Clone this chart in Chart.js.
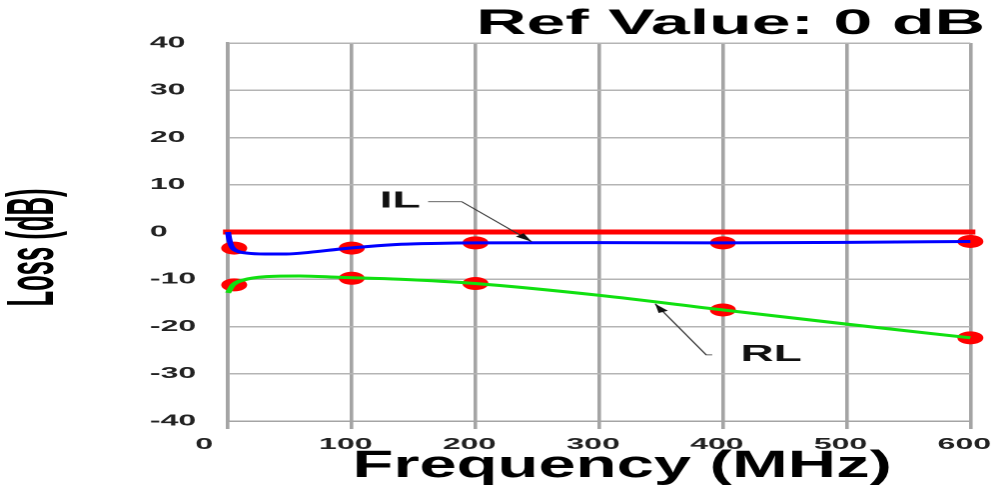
<!DOCTYPE html>
<html>
<head>
<meta charset="utf-8">
<script src="https://cdn.jsdelivr.net/npm/chart.js@4.4.1/dist/chart.umd.min.js"></script>
<style>
  html, body { margin: 0; padding: 0; background: #ffffff; overflow: hidden; }
  #wrap { position: absolute; left: 0; top: 0; width: 499px; height: 487px;
          transform: scaleX(1.998); transform-origin: 0 0; }
  canvas { display: block; }
</style>
</head>
<body>
<div id="wrap"><canvas id="c" width="499" height="487"></canvas></div>
<script>
// ---------- data ----------
const TITLE = 'Ref Value: 0 dB';
const X_TITLE = 'Frequency (MHz)';
const Y_TITLE = 'Loss (dB)';

const X_TICKS = [0, 100, 200, 300, 400, 500, 600];
const Y_TICKS = [-40, -30, -20, -10, 0, 10, 20, 30, 40];

// Insertion loss curve (blue)
const IL_FREQ = [0, 1, 3, 7, 15, 30, 47, 66, 91, 112, 140, 170, 200, 300, 400, 500, 600];
const IL_DB   = [0, -1.5, -3.1, -4.0, -4.45, -4.65, -4.65, -4.3, -3.6, -3.1, -2.6, -2.4, -2.3, -2.25, -2.3, -2.2, -2.0];

// Return loss curve (green)
const RL_FREQ = [0, 4, 12, 31, 58, 91, 139, 200, 300, 400, 500, 600];
const RL_DB   = [-12.9, -11.2, -10.2, -9.45, -9.3, -9.6, -10.0, -10.9, -13.4, -16.5, -19.5, -22.4];

// Reference line (red)
const REF_FREQ = [0, 600];
const REF_DB   = [0, 0];

// Measured points (red markers)
const MARK_FREQ  = [5, 100, 200, 400, 600];
const MARK_IL_DB = [-3.4, -3.4, -2.3, -2.3, -2.0];
const MARK_RL_DB = [-11.2, -9.8, -10.9, -16.5, -22.4];

// Annotation anchors in data units
const IL_NOTE = { text: 'IL', label: [139, 6.5], start: [161.7, 6.4], bend: [189, 6.4], tip: [245.4, -2.05] };
const RL_NOTE = { text: 'RL', label: [439, -26], start: [391.4, -26], bend: [386.5, -26], tip: [345.3, -15.2] };

// ---------- helpers ----------
const FAMILY = "'Liberation Sans', Arial, Helvetica, sans-serif";
const pts = (xs, ys) => xs.map((x, i) => ({ x: x, y: ys[i] }));

const annotations = {
  id: 'annotations',
  afterDatasetsDraw(chart) {
    const { ctx, scales: { x, y } } = chart;
    const P = (p) => [x.getPixelForValue(p[0]), y.getPixelForValue(p[1])];
    [IL_NOTE, RL_NOTE].forEach((n) => {
      const s = P(n.start), b = P(n.bend), t = P(n.tip), l = P(n.label);
      ctx.save();
      ctx.strokeStyle = '#333333';
      ctx.fillStyle = '#111111';
      ctx.lineWidth = 0.8;
      ctx.beginPath();
      ctx.moveTo(s[0], s[1]);
      ctx.lineTo(b[0], b[1]);
      ctx.lineTo(t[0], t[1]);
      ctx.stroke();
      const ang = Math.atan2(t[1] - b[1], t[0] - b[0]);
      const L = 9, W = 2.6;
      ctx.beginPath();
      ctx.moveTo(t[0], t[1]);
      ctx.lineTo(t[0] - L * Math.cos(ang) + W * Math.sin(ang), t[1] - L * Math.sin(ang) - W * Math.cos(ang));
      ctx.lineTo(t[0] - L * Math.cos(ang) - W * Math.sin(ang), t[1] - L * Math.sin(ang) + W * Math.cos(ang));
      ctx.closePath();
      ctx.fill();
      ctx.font = 'bold 23px ' + FAMILY;
      ctx.fillStyle = '#111111';
      ctx.textAlign = 'center';
      ctx.textBaseline = 'middle';
      ctx.fillText(n.text, l[0], l[1]);
      ctx.restore();
    });
  }
};

const axisTitles = {
  id: 'axisTitles',
  afterDraw(chart) {
    const { ctx, chartArea } = chart;
    ctx.save();
    ctx.fillStyle = '#000000';
    ctx.textAlign = 'center';
    ctx.textBaseline = 'middle';
    // x-axis title
    ctx.font = 'bold 38px ' + FAMILY;
    ctx.fillText(X_TITLE, (chartArea.left + chartArea.right) / 2 + 11.5, 466.5, 270);
    // y-axis title (rotated, condensed)
    ctx.translate(17.5, (chartArea.top + chartArea.bottom) / 2 + 15.5);
    ctx.rotate(-Math.PI / 2);
    ctx.font = 'bold 33px ' + FAMILY;
    ctx.fillText(Y_TITLE, 0, 0, 118);
    ctx.restore();
  }
};

new Chart(document.getElementById('c'), {
  type: 'line',
  data: {
    datasets: [
      { label: 'IL', data: pts(IL_FREQ, IL_DB), borderColor: '#0000ff', borderWidth: 3,
        pointRadius: 0, cubicInterpolationMode: 'monotone', clip: false },
      { label: 'RL', data: pts(RL_FREQ, RL_DB), borderColor: '#10e010', borderWidth: 3,
        pointRadius: 0, cubicInterpolationMode: 'monotone', clip: false },
      { label: 'Ref', data: pts(REF_FREQ, REF_DB), borderColor: '#ff0000', borderWidth: 5,
        borderCapStyle: 'square', pointRadius: 0, clip: false },
      { label: 'IL meas', data: pts(MARK_FREQ, MARK_IL_DB), showLine: false,
        pointRadius: 6.5, pointBackgroundColor: '#ff0000', pointBorderWidth: 0, clip: false },
      { label: 'RL meas', data: pts(MARK_FREQ, MARK_RL_DB), showLine: false,
        pointRadius: 6.5, pointBackgroundColor: '#ff0000', pointBorderWidth: 0, clip: false }
    ]
  },
  options: {
    responsive: false,
    animation: false,
    devicePixelRatio: 2,
    layout: { padding: { left: 75, right: 6, top: 0, bottom: 32 } },
    plugins: {
      legend: { display: false },
      tooltip: { enabled: false },
      title: {
        display: true, text: TITLE, align: 'end', color: '#000000',
        font: { family: FAMILY, size: 35, weight: 'bold', lineHeight: 1 },
        padding: { top: 7, bottom: 1 }
      }
    },
    scales: {
      x: {
        type: 'linear', min: 0, max: 600,
        afterBuildTicks: (s) => { s.ticks = X_TICKS.map((v) => ({ value: v })); },
        afterFit: (s) => {
          s.height = 34;
          s.paddingRight = Math.max(0, s.paddingRight - s.options.ticks.padding);
        },
        ticks: {
          autoSkip: false, maxRotation: 0, padding: 6, labelOffset: -3,
          color: '#222222', font: { family: FAMILY, size: 16, weight: 'bold' },
          callback: (v) => (v === 0 ? '0    ' : String(v))
        },
        grid: { color: '#a4a4a4', lineWidth: 1.8, tickLength: 8, tickColor: '#a4a4a4' },
        border: { color: '#a4a4a4', width: 1.5 }
      },
      y: {
        type: 'linear', min: -40, max: 40,
        afterBuildTicks: (s) => { s.ticks = Y_TICKS.map((v) => ({ value: v })); },
        afterFit: (s) => { s.width = 39.1; },
        ticks: {
          autoSkip: false, crossAlign: 'far', padding: 8,
          color: '#222222', font: { family: FAMILY, size: 16, weight: 'bold' }
        },
        grid: { color: '#b4b4b4', lineWidth: 1.5, drawTicks: false },
        border: { color: '#a4a4a4', width: 1.8 }
      }
    }
  },
  plugins: [annotations, axisTitles]
});
</script>
</body>
</html>
